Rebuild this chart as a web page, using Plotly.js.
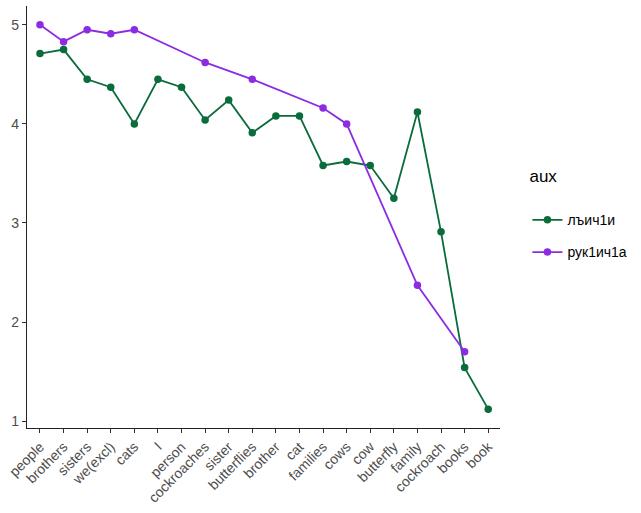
<!DOCTYPE html>
<html><head><meta charset="utf-8">
<script src="https://cdn.plot.ly/plotly-3.0.1.min.js"></script>
<style>html,body{margin:0;padding:0;background:#fff}#c{width:641px;height:513px}</style>
</head><body><div id="c"></div>
<script>
const categories = ["people","brothers","sisters","we(excl)","cats","I","person","cockroaches","sister","butterflies","brother","cat","families","cows","cow","butterfly","family","cockroach","books","book"];
const greenName = "лъич1и";
const greenValues = [4.71,4.75,4.45,4.37,4.0,4.45,4.37,4.04,4.24,3.91,4.08,4.08,3.58,3.62,3.58,3.25,4.12,2.91,1.54,1.12];
const purpleName = "рук1ич1а";
const purpleValues = [5.0,4.83,4.95,4.91,4.95,null,null,4.62,null,4.45,null,null,4.16,4.0,null,null,2.37,null,1.70,null];
const yTicks = [1,2,3,4,5];

const green = "#0a6b3b", purple = "#8b2be2";
const traces = [
  {x: categories, y: greenValues, name: greenName, legendgroup: "g", type: "scatter", mode: "lines+markers",
   line: {color: green, width: 1.8}, marker: {color: green, size: 7.5}},
  {x: categories, y: purpleValues, name: purpleName, legendgroup: "p", type: "scatter", mode: "lines+markers", connectgaps: true,
   line: {color: purple, width: 1.8}, marker: {color: purple, size: 7.5}}
];
const layout = {
  width: 641, height: 513,
  margin: {l: 27, r: 141, t: 6, b: 85},
  paper_bgcolor: "#fff", plot_bgcolor: "#fff",
  font: {family: "Liberation Sans, Arial, sans-serif", color: "#4d4d4d"},
  showlegend: true,
  legend: {x: 1.058, y: 0.635, xanchor: "left", yanchor: "top",
    traceorder: "grouped",
    title: {text: "aux<br> ", font: {size: 17, color: "#000"}},
    font: {size: 14, color: "#000"}, tracegroupgap: 11, itemwidth: 30},
  xaxis: {type: "category", categoryorder: "array", categoryarray: categories,
    range: [-0.55, 19.5], tickangle: -45, showgrid: false, zeroline: false,
    showline: true, linecolor: "#222", linewidth: 1.3,
    ticks: "outside", ticklen: 4, tickcolor: "#333", tickwidth: 1,
    tickfont: {size: 14, color: "#4d4d4d"}},
  yaxis: {range: [0.93, 5.19], tickvals: yTicks, ticktext: yTicks.map(String),
    showgrid: false, zeroline: false,
    showline: true, linecolor: "#222", linewidth: 1.3,
    ticks: "outside", ticklen: 4, tickcolor: "#333", tickwidth: 1,
    tickfont: {size: 14, color: "#4d4d4d"}}
};
Plotly.newPlot("c", traces, layout, {displayModeBar: false});
</script></body></html>
